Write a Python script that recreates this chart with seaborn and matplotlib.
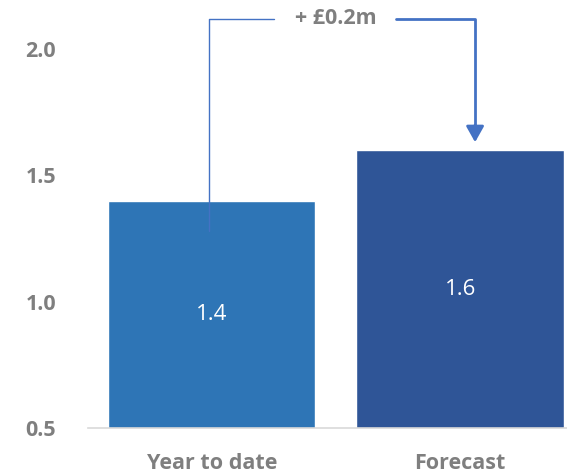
import matplotlib
matplotlib.use("Agg")
import matplotlib.pyplot as plt
import seaborn as sns
import pandas as pd

# Veriler
categories = ["Year to date", "Forecast"]
values = [1.4, 1.6]
bar_colors = ["#2E75B6", "#2F5597"]
yticks = [0.5, 1.0, 1.5, 2.0]
delta_label = "+ £0.2m"

sns.set_theme(style="white")
plt.rcParams["font.family"] = ["Open Sans", "DejaVu Sans"]

df = pd.DataFrame({"cat": categories, "val": values})

fig = plt.figure(figsize=(5.67, 4.73), dpi=100)
ax = fig.add_axes([88 / 567, 45 / 473, (567 - 88) / 567, (428 - 5) / 473])

sns.barplot(data=df, x="cat", y="val", hue="cat", palette=bar_colors,
            width=0.835, legend=False, ax=ax, saturation=1)

ax.set_ylim(0.5, 0.5 + 423 / 252.7)
ax.set_xlim(-0.498, 1.43)
ax.set_yticks(yticks)
ax.set_yticklabels([f"{t:.1f}" for t in yticks])
ax.set_xlabel("")
ax.set_ylabel("")

gray = "#7F7F7F"
fs = 15.5
ax.tick_params(axis="y", length=0, pad=23, labelsize=fs, labelcolor=gray)
ax.tick_params(axis="x", length=0, pad=18, labelsize=fs, labelcolor=gray)
for lab in ax.get_xticklabels() + ax.get_yticklabels():
    lab.set_fontweight("bold")

for s in ["top", "right", "left"]:
    ax.spines[s].set_visible(False)
ax.spines["bottom"].set_color("#D9D9D9")
ax.spines["bottom"].set_linewidth(1.2)

# Bar içi etiketler
for i, v in enumerate(values):
    ax.text(i, (0.5 + v) / 2, f"{v:.1f}", ha="center", va="center",
            color="white", fontsize=16)

# Fark oku
top = 2.12
line_col = "#4472C4"
ax.plot([-0.01, -0.01, 0.25], [1.28, top, top], color=line_col, lw=1, clip_on=False)
ax.plot([0.74, 1.06, 1.06], [top, top, 1.70], color=line_col, lw=2, clip_on=False)
ax.annotate("", xy=(1.06, 1.62), xytext=(1.06, 1.71),
            arrowprops=dict(arrowstyle="-|>,head_width=0.45,head_length=0.8",
                            color=line_col, lw=2), annotation_clip=False)
ax.text(0.5, top, delta_label, ha="center", va="center", color=gray,
        fontsize=fs, fontweight="bold")

fig.savefig("out.png", dpi=100)
